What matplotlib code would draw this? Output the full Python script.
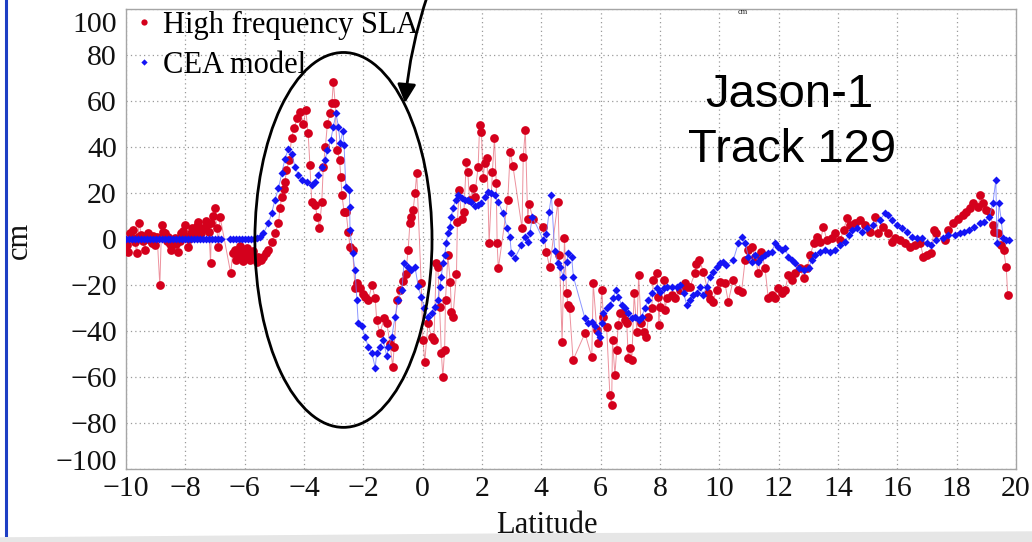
import numpy as np
import matplotlib
matplotlib.use("Agg")
import matplotlib.pyplot as plt
from matplotlib.patches import Ellipse, Polygon
from matplotlib.lines import Line2D
from matplotlib.transforms import ScaledTranslation

plt.rcParams["font.family"] = ["Liberation Serif", "DejaVu Serif"]

# High frequency SLA (red), latitude / cm
sla_lat = [
    -9.98, -9.92, -9.86, -9.80, -9.75, -9.70, -9.64, -9.60, -9.55, -9.48, -9.42, -9.37,
    -9.31, -9.26, -9.20, -9.14, -9.08, -9.03, -8.95, -8.86, -8.80, -8.74, -8.69, -8.63,
    -8.57, -8.52, -8.47, -8.41, -8.36, -8.30, -8.24, -8.18, -8.13, -8.07, -8.01, -7.95,
    -7.90, -7.86, -7.82, -7.76, -7.71, -7.65, -7.60, -7.56, -7.50, -7.46, -7.40, -7.35,
    -7.31, -7.27, -7.20, -7.15, -7.12, -7.06, -7.00, -6.94, -6.89, -6.83, -6.47, -6.40,
    -6.34, -6.28, -6.22, -6.16, -6.11, -6.05, -5.99, -5.93, -5.88, -5.82, -5.77, -5.71,
    -5.65, -5.60, -5.54, -5.45, -5.37, -5.28, -5.20, -5.09, -4.98, -4.86, -4.81, -4.75,
    -4.69, -4.64, -4.59, -4.50, -4.42, -4.34, -4.23, -4.13, -4.02, -3.94, -3.86, -3.80,
    -3.74, -3.63, -3.55, -3.48, -3.40, -3.35, -3.28, -3.21, -3.12, -3.06, -3.01, -2.95,
    -2.89, -2.80, -2.76, -2.72, -2.65, -2.58, -2.51, -2.45, -2.36, -2.28, -2.20, -2.11,
    -2.02, -1.94, -1.83, -1.71, -1.60, -1.55, -1.44, -1.30, -1.21, -1.10, -1.01, -0.96,
    -0.87, -0.78, -0.66, -0.57, -0.49, -0.43, -0.38, -0.32, -0.26, -0.20, -0.05, 0.01,
    0.07, 0.18, 0.30, 0.38, 0.46, 0.51, 0.57, 0.63, 0.68, 0.74, 0.77, 0.85,
    0.93, 0.97, 1.02, 1.14, 1.17, 1.23, 1.31, 1.39, 1.47, 1.52, 1.58, 1.70,
    1.75, 1.87, 1.92, 1.98, 2.04, 2.09, 2.17, 2.24, 2.35, 2.42, 2.48, 2.51,
    2.55, 2.87, 2.95, 3.04, 3.35, 3.39, 3.46, 3.54, 3.59, 3.71, 4.05, 4.17,
    4.28, 4.56, 4.61, 4.70, 4.78, 4.85, 4.90, 4.95, 5.07, 5.47, 5.70, 5.75,
    5.87, 5.92, 6.04, 6.09, 6.20, 6.31, 6.37, 6.40, 6.48, 6.54, 6.59, 6.65,
    6.76, 6.82, 6.88, 6.93, 6.99, 7.05, 7.13, 7.22, 7.28, 7.36, 7.45, 7.54, 7.61,
    7.72, 7.78, 7.89, 7.94, 7.96, 8.00, 8.14, 8.17, 8.23, 8.40, 8.51, 8.68, 8.85, 8.90, 9.01,
    9.18, 9.23, 9.33, 9.46, 9.63, 9.68, 9.78, 9.91, 10.02, 10.19, 10.30, 10.47, 10.64, 10.75,
    10.87, 10.98, 11.09, 11.20, 11.32, 11.42, 11.54, 11.65, 11.77, 11.88, 11.99, 12.10,
    12.21, 12.33, 12.44, 12.55, 12.72, 12.84, 12.95, 13.07, 13.18, 13.29, 13.40, 13.51,
    13.62, 13.79, 13.91, 14.07, 14.19, 14.30, 14.41, 14.58, 14.75, 14.92, 15.08, 15.25,
    15.36, 15.53, 15.70, 15.81, 15.93, 16.10, 16.27, 16.43, 16.60, 16.77, 16.88, 16.99,
    17.15, 17.23, 17.30, 17.61, 17.72, 17.89, 18.05, 18.22, 18.33, 18.44, 18.55, 18.72,
    18.80, 18.89, 19.00, 19.11, 19.22, 19.27, 19.39, 19.50, 19.58, 19.67, 19.72,
]
sla_cm = [
    -2.6, -5.5, 2.5, 0.5, 4.0, -1.2, -6.2, 1.0, 6.8, 1.8, -1.0, -4.8,
    0.5, 2.5, -0.5, -1.7, 1.5, -2.6, 1.0, -20.0, 6.1, 3.0, 2.5, -1.0,
    1.0, -2.0, -4.8, -1.5, 0.3, -2.0, -5.5, -1.0, 2.5, 3.5, 6.1, 1.0,
    -3.3, 0.0, 2.5, 5.0, 3.9, 1.0, 5.5, 7.5, 4.0, 2.5, 5.0, 4.6,
    8.0, 6.1, 3.0, -10.6, 6.8, 10.0, 13.3, 5.0, -3.3, 9.7, -14.9, -6.0,
    -4.8, -9.0, -7.7, -3.0, -5.5, -9.5, -8.4, -4.0, -5.5, -9.0, -7.7, -5.0,
    -8.4, -10.0, -7.7, -9.0, -7.7, -6.0, -4.8, -1.2, 2.5, 6.8, 13.3, 18.3,
    21.9, 25.0, 29.8, 34.3, 43.7, 48.1, 52.4, 55.3, 50.2, 56.0, 45.9, 32.0,
    16.2, 14.8, 9.7, 4.6, 16.2, 31.4, 40.0, 50.2, 54.6, 59.0, 68.4, 59.0,
    38.7, 34.3, 27.1, 19.1, 11.8, 11.8, 3.2, -3.3, -4.8, -21.5, -19.0, -21.5,
    -24.0, -25.0, -26.5, -20.0, -25.8, -35.2, -41.0, -34.5, -36.6, -45.5, -55.5, -46.9,
    -26.5, -22.0, -18.3, -15.0, -4.8, 6.8, 9.7, 12.6, 19.9, 28.5, -19.3, -43.9,
    -53.3, -36.7, -42.5, -43.9, -10.6, -12.0, -29.4, -49.7, -59.9, -48.3, -26.5, -7.0,
    -18.6, -31.6, -33.8, -15.0, 7.5, 21.3, 8.9, 11.8, 33.6, 29.3, 17.0, 22.1,
    18.4, 31.4, 49.6, 46.7, 26.4, 33.0, 35.2, -1.9, 29.3, 43.8, 24.2, -1.9,
    -12.8, 17.0, 37.9, 31.9, 4.6, 35.8, 47.4, 8.9, 15.4, 8.9, 5.2, -5.8,
    -12.3, 16.2, -6.9, -44.6, 0.4, -23.6, -28.7, -30.0, -52.6, -41.0, -51.2, -19.3,
    -39.6, -45.4, -22.2, -33.8, -38.1, -67.8, -72.2, -44.0, -59.1, -48.3, -37.4, -32.3,
    -32.3, -35.0, -36.7, -51.9, -47.5, -52.6, -23.6, -40.3, -15.7, -36.7, -40.3, -42.5, -33.8,
    -30.1, -17.8, -14.9, -25.1, -37.4, -29.4, -17.8, -31.0, -25.8, -24.3, -25.8, -22.2, -19.3, -20.7, -20.7,
    -14.9, -11.0, -9.1, -14.2, -23.6, -26.1, -27.2, -22.2, -18.6, -19.3, -27.2, -17.8, -22.2, -22.9,
    -9.1, -4.8, -3.3, -7.7, -14.9, -5.5, -12.7, -25.8, -24.3, -25.8, -21.5, -23.6,
    -22.2, -15.7, -17.8, -14.9, -12.7, -17.1, -12.7, -6.9, -1.9, 0.9, -1.2, 5.4,
    -0.4, 0.3, 2.5, -0.4, 3.9, 9.0, 6.1, 6.8, 8.3, 6.1, 3.2, 9.7,
    2.5, 5.4, 2.5, -1.2, 0.3, -0.4, -1.9, -3.3, -2.6, -1.9, -7.7, -6.9,
    -6.2, 4.0, 2.5, -0.4, 4.0, 6.8, 8.9, 10.3, 11.8, 13.3, 15.5, 14.1,
    19.1, 15.5, 12.6, 11.8, 6.1, 3.2, 2.5, -2.6, -4.8, -12.1, -24.4,
]

# CEA model (blue), latitude / cm
cea_lat = [
    -10.0, -9.9, -9.8, -9.7, -9.6, -9.5, -9.4, -9.3, -9.2, -9.1, -9.0, -8.9,
    -8.8, -8.7, -8.6, -8.5, -8.4, -8.3, -8.2, -8.1, -8.0, -7.9, -7.8, -7.7,
    -7.6, -7.5, -7.4, -7.3, -7.2, -7.1, -7.0, -6.9, -6.8, -6.5, -6.4, -6.3,
    -6.2, -6.1, -6.0, -5.9, -5.8, -5.7, -5.6, -5.48, -5.37, -5.20, -5.09, -4.98,
    -4.86, -4.75, -4.64, -4.53, -4.42, -4.30, -4.19, -4.08, -3.91, -3.74, -3.63, -3.52,
    -3.40, -3.29, -3.21, -3.10, -3.01, -2.92, -2.84, -2.78, -2.69, -2.65, -2.59, -2.47,
    -2.46, -2.45, -2.36, -2.28, -2.22, -2.17, -2.05, -1.94, -1.83, -1.71, -1.60, -1.55,
    -1.44, -1.33, -1.21, -1.16, -1.04, -0.93, -0.82, -0.70, -0.63, -0.49, -0.38, -0.26,
    -0.15, -0.05, 0.06, 0.18, 0.30, 0.40, 0.51, 0.57, 0.63, 0.68, 0.74, 0.80,
    0.85, 0.91, 0.97, 1.02, 1.11, 1.19, 1.31, 1.42, 1.52, 1.64, 1.75, 1.87,
    1.98, 2.09, 2.20, 2.32, 2.43, 2.54, 2.71, 2.85, 2.94, 2.99, 3.11, 3.33,
    3.44, 3.55, 3.61, 3.70, 4.06, 4.17, 4.26, 4.34, 4.45, 4.56, 4.63, 4.74,
    4.85, 4.91, 5.02, 5.08, 5.47, 5.58, 5.70, 5.81, 5.92, 5.98, 6.04, 6.09,
    6.20, 6.31, 6.42, 6.51, 6.59, 6.71, 6.82, 6.93, 7.05, 7.16, 7.28, 7.38,
    7.49, 7.61, 7.72, 7.89, 8.00, 8.12, 8.23, 8.40, 8.57, 8.68, 8.80, 8.90,
    9.01, 9.12, 9.24, 9.35, 9.46, 9.57, 9.68, 9.79, 9.91, 10.02, 10.12, 10.24,
    10.47, 10.64, 10.75, 10.87, 10.98, 11.09, 11.20, 11.32, 11.42, 11.54, 11.65, 11.77,
    11.88, 11.99, 12.10, 12.21, 12.33, 12.44, 12.55, 12.67, 12.84, 13.01, 13.12, 13.23,
    13.40, 13.57, 13.74, 13.91, 14.07, 14.24, 14.36, 14.47, 14.64, 14.81, 14.97, 15.19,
    15.41, 15.58, 15.70, 15.81, 15.98, 16.15, 16.31, 16.48, 16.65, 16.82, 16.99, 17.15,
    17.32, 17.55, 17.72, 17.93, 18.10, 18.26, 18.43, 18.60, 18.77, 18.93, 19.10, 19.22,
    19.32, 19.36, 19.43, 19.50, 19.57, 19.67, 19.77,
]
cea_cm = [
    0.0, 0.0, 0.0, 0.0, 0.0, 0.0, 0.0, 0.0, 0.0, 0.0, 0.0, 0.0,
    0.0, 0.0, 0.0, 0.0, 0.0, 0.0, 0.0, 0.0, 0.0, 0.0, 0.0, 0.0,
    0.0, 0.0, 0.0, 0.0, 0.0, 0.0, 0.0, 0.0, 0.0, 0.0, 0.0, 0.0,
    0.0, 0.0, 0.0, 0.0, 0.0, 0.0, 0.5, 1.0, 2.5, 6.8, 11.2, 17.0,
    22.0, 28.5, 35.0, 39.0, 37.0, 31.4, 27.8, 25.7, 24.9, 23.5, 24.9, 27.8,
    31.4, 34.3, 38.7, 43.0, 48.8, 54.6, 48.8, 41.6, 47.0, 40.9, 22.7, 21.3,
    14.0, 3.9, -6.2, -13.5, -26.5, -36.7, -38.0, -42.5, -47.0, -49.7, -56.0, -49.7,
    -47.0, -44.0, -51.0, -47.0, -42.5, -33.8, -26.5, -22.0, -10.6, -12.0, -13.5, -12.0,
    -20.6, -25.0, -30.0, -33.8, -32.3, -29.4, -26.5, -20.7, -16.4, -10.6, -7.0, -1.9,
    2.5, 5.4, 9.7, 13.3, 17.0, 19.1, 17.7, 17.0, 17.0, 16.2, 14.3, 14.8,
    15.5, 18.4, 20.6, 20.1, 19.1, 16.2, 11.2, 4.6, 1.0, -6.2, -8.3, -2.6,
    1.0, -1.2, 2.5, 9.7, -0.3, 2.0, 11.7, 19.0, -5.4, -10.6, -12.0, -16.4,
    -9.9, -6.2, -7.7, -16.4, -34.5, -36.6, -36.0, -38.0, -41.0, -42.5, -36.6, -32.3,
    -30.0, -28.7, -25.8, -22.2, -25.0, -28.7, -30.0, -32.3, -34.5, -34.0, -35.2, -34.0,
    -30.0, -26.5, -23.6, -21.5, -22.9, -21.5, -20.7, -20.7, -20.7, -20.0, -23.6, -28.7,
    -26.5, -24.3, -23.6, -20.7, -24.3, -20.7, -16.4, -14.2, -12.0, -10.6, -9.9, -11.3,
    -9.1, -1.9, 0.9, -1.9, -7.7, -9.9, -6.9, -9.9, -8.4, -6.9, -6.2, -5.5,
    -1.9, -3.3, -4.8, -4.0, -7.7, -9.1, -10.6, -12.7, -13.5, -12.7, -9.1, -6.9,
    -5.5, -4.8, -5.5, -4.8, -2.6, -1.2, 1.7, 3.9, 4.6, 3.2, 4.6, 6.1,
    8.3, 11.2, 10.5, 8.3, 6.1, 4.6, 3.2, 1.0, 0.3, 0.3, -1.9, -2.6,
    -0.3, 0.3, 1.7, 1.7, 2.5, 3.2, 3.9, 5.4, 6.8, 7.5, 9.7, 15.5,
    25.6, -1.9, 15.5, 8.3, 0.3, -0.3, -0.3,
]

x_ticks = [-10, -8, -6, -4, -2, 0, 2, 4, 6, 8, 10, 12, 14, 16, 18, 20]
y_ticks = [-100, -80, -60, -40, -20, 0, 20, 40, 60, 80, 100]

red = "#d4001c"
blue = "#1414f5"

fig = plt.figure(figsize=(10.32, 5.42), dpi=100)
ax = fig.add_axes([126 / 1032, 1 - 469 / 542, 890 / 1032, 460 / 542])

ax.plot(sla_lat, sla_cm, "-", color="#e0485c", lw=0.7, alpha=0.6, zorder=2)
ax.plot(sla_lat, sla_cm, "o", color=red, ms=6.3, mec="none", zorder=3)
ax.plot(cea_lat, cea_cm, "-", color="#6f7cff", lw=0.7, alpha=0.8, zorder=4)
ax.plot(cea_lat, cea_cm, "D", color=blue, ms=4.3, mec="none", zorder=5)

ax.set_xlim(-10, 20)
ax.set_ylim(-100, 100)
ax.set_xticks(x_ticks)
ax.set_yticks(y_ticks)
ax.tick_params(length=0, labelsize=21.5, colors="#111111")
ax.tick_params(axis="y", pad=6.5)
ax.tick_params(axis="x", pad=5)
ax.grid(True, linestyle=(0, (1, 2.5)), color="#9a9a9a", lw=0.9)
for s in ax.spines.values():
    s.set_color("#a5a5a5")
    s.set_linewidth(1.0)

# the end labels sit slightly inside the frame in the original
labs = ax.get_yticklabels()
labs[-1].set_transform(labs[-1].get_transform() + ScaledTranslation(0, -0.13, fig.dpi_scale_trans))
labs[0].set_transform(labs[0].get_transform() + ScaledTranslation(0, 0.09, fig.dpi_scale_trans))

fig.text(547 / 1032, 9 / 542, "Latitude", ha="center", va="baseline", fontsize=22, color="#111111")
fig.text(19.5 / 1032, 1 - 240 / 542, "cm", rotation=90, ha="center", va="center", fontsize=22, color="#111111")
fig.text(743 / 1032, 1 - 12 / 542, "cm", ha="center", va="center", fontsize=6, color="#222222")

handles = [
    Line2D([], [], ls="none", marker="o", color=red, ms=4.5, mec="none"),
    Line2D([], [], ls="none", marker="D", color=blue, ms=3.2, mec="none"),
]
ax.legend(handles, ["High frequency SLA", "CEA model"], loc="upper left",
          bbox_to_anchor=(132 / 1032, 1 - 11 / 542), bbox_transform=fig.transFigure,
          frameon=False, fontsize=22, handlelength=0.8, handletextpad=0.22,
          borderpad=0, borderaxespad=0, labelspacing=0.36)

fig.text(789 / 1032, 1 - 107 / 542, "Jason-1", ha="center", va="baseline",
         fontsize=34, family="Liberation Sans", color="black")
fig.text(792 / 1032, 1 - 162 / 542, "Track 129", ha="center", va="baseline",
         fontsize=34, family="Liberation Sans", color="black")

ell = Ellipse((-2.67, -0.4), width=5.97, height=163, fill=False, ec="black",
              lw=2.0, zorder=6, clip_on=False)
ax.add_patch(ell)
ax.annotate("", xy=(405, 542 - 103), xycoords="figure pixels",
            xytext=(428, 548), textcoords="figure pixels", annotation_clip=False,
            arrowprops=dict(arrowstyle="-|>", lw=2.0, color="black", mutation_scale=28,
                            shrinkA=0, shrinkB=0, connectionstyle="arc3,rad=0.06"))

# slide decorations: blue rule on the left, grey swoosh at the bottom
fig.add_artist(Line2D([6 / 1032, 6 / 1032], [0.012, 1.0], color="#1e3fc4", lw=2.2,
                      transform=fig.transFigure))
fig.add_artist(Polygon([(0, 0), (1, 0), (1, 10 / 542), (0.5, 8 / 542), (0, 4 / 542)],
                       closed=True, color="#e6e6e6", transform=fig.transFigure, zorder=0))

fig.savefig("out.png", dpi=100)
